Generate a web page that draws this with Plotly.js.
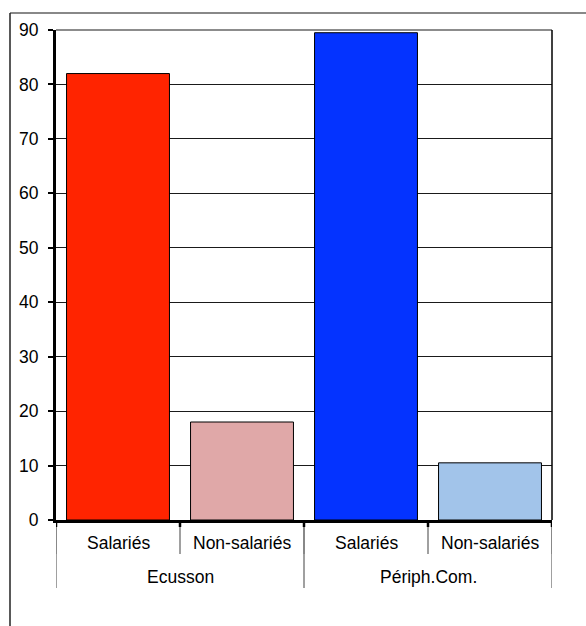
<!DOCTYPE html>
<html><head><meta charset="utf-8">
<script src="https://cdn.plot.ly/plotly-3.0.1.min.js"></script>
<style>html,body{margin:0;padding:0;background:#fff}#chart{width:586px;height:626px}</style>
</head><body><div id="chart"></div>
<script>
const groups = ["Ecusson", "Périph.Com."];
const subcats = ["Salariés", "Non-salariés", "Salariés", "Non-salariés"];
const values = [82, 18, 89.5, 10.5];
const barColors = ["#FF2400", "#E0A8A8", "#0433FF", "#A2C4EA"];
const yTicks = [0, 10, 20, 30, 40, 50, 60, 70, 80, 90];

const W = 586, H = 626;
const margin = {l: 56, r: 34, t: 30, b: 106};
const plotH = H - margin.t - margin.b;
const plotW = W - margin.l - margin.r;
const px = p => -p / plotH; // pixels below axis -> paper coords
const FONT = "Liberation Sans, Arial, sans-serif";
const FS = 17.5;

const xs = subcats.map((_, i) => i);
const shapes = [];
// inner dividers (between subcategories)
for (let i = 0; i <= subcats.length; i++) {
  shapes.push({type: "line", xref: "x", yref: "paper", x0: i - 0.5, x1: i - 0.5, y0: px(1), y1: px(34), line: {color: "#808080", width: 1.5}});
}
// outer dividers (between groups)
const per = subcats.length / groups.length;
for (let g = 0; g <= groups.length; g++) {
  const xv = g * per - 0.5;
  shapes.push({type: "line", xref: "x", yref: "paper", x0: xv, x1: xv, y0: px(1), y1: px(68), line: {color: "#808080", width: 1.5}});
}
// tick marks at category boundaries
for (let i = 0; i <= subcats.length; i++) {
  shapes.push({type: "line", xref: "x", yref: "paper", x0: i - 0.5, x1: i - 0.5, y0: 0, y1: px(7), line: {color: "#000", width: 2.5}});
}
// plot top & right border
shapes.push({type: "line", xref: "paper", yref: "paper", x0: 0, x1: 1, y0: 1, y1: 1, line: {color: "#666", width: 1.5}});
shapes.push({type: "line", xref: "paper", yref: "paper", x0: 1, x1: 1, y0: 0, y1: 1, line: {color: "#000", width: 1.5}});
// outer frame (top and left)
const fx = (10 - margin.l) / plotW;
const fy = 1 + 17 / plotH;
shapes.push({type: "line", xref: "paper", yref: "paper", x0: fx, x1: 1.2, y0: fy, y1: fy, line: {color: "#888", width: 2}});
shapes.push({type: "line", xref: "paper", yref: "paper", x0: fx, x1: fx, y0: fy, y1: -0.3, line: {color: "#222", width: 1.5}});

const annotations = [];
subcats.forEach((s, i) => annotations.push({x: i, y: px(23), xref: "x", yref: "paper", text: s, showarrow: false, yanchor: "middle", font: {family: FONT, size: FS, color: "#000"}}));
groups.forEach((g, k) => annotations.push({x: k * per + (per - 1) / 2, y: px(57), xref: "x", yref: "paper", text: g, showarrow: false, yanchor: "middle", font: {family: FONT, size: FS, color: "#000"}}));

const data = [{
  type: "bar", x: xs, y: values, width: 0.83,
  marker: {color: barColors, line: {color: "#000", width: 1}},
  hoverinfo: "skip"
}];

const layout = {
  width: W, height: H, margin: margin,
  paper_bgcolor: "#fff", plot_bgcolor: "#fff",
  showlegend: false,
  font: {family: FONT, size: FS, color: "#000"},
  xaxis: {range: [-0.5, subcats.length - 0.5], showticklabels: false, ticks: "", showgrid: false, zeroline: false, showline: true, linecolor: "#000", linewidth: 2.5, fixedrange: true},
  yaxis: {range: [0, 90], tickvals: yTicks, ticks: "outside", ticklen: 5, tickwidth: 2, tickcolor: "#000", showline: true, linecolor: "#000", linewidth: 3, showgrid: true, gridcolor: "#1a1a1a", gridwidth: 1, zeroline: false, ticklabelstandoff: 6, tickfont: {size: FS}, fixedrange: true},
  shapes: shapes, annotations: annotations
};
Plotly.newPlot("chart", data, layout, {displayModeBar: false, staticPlot: true});
</script></body></html>
